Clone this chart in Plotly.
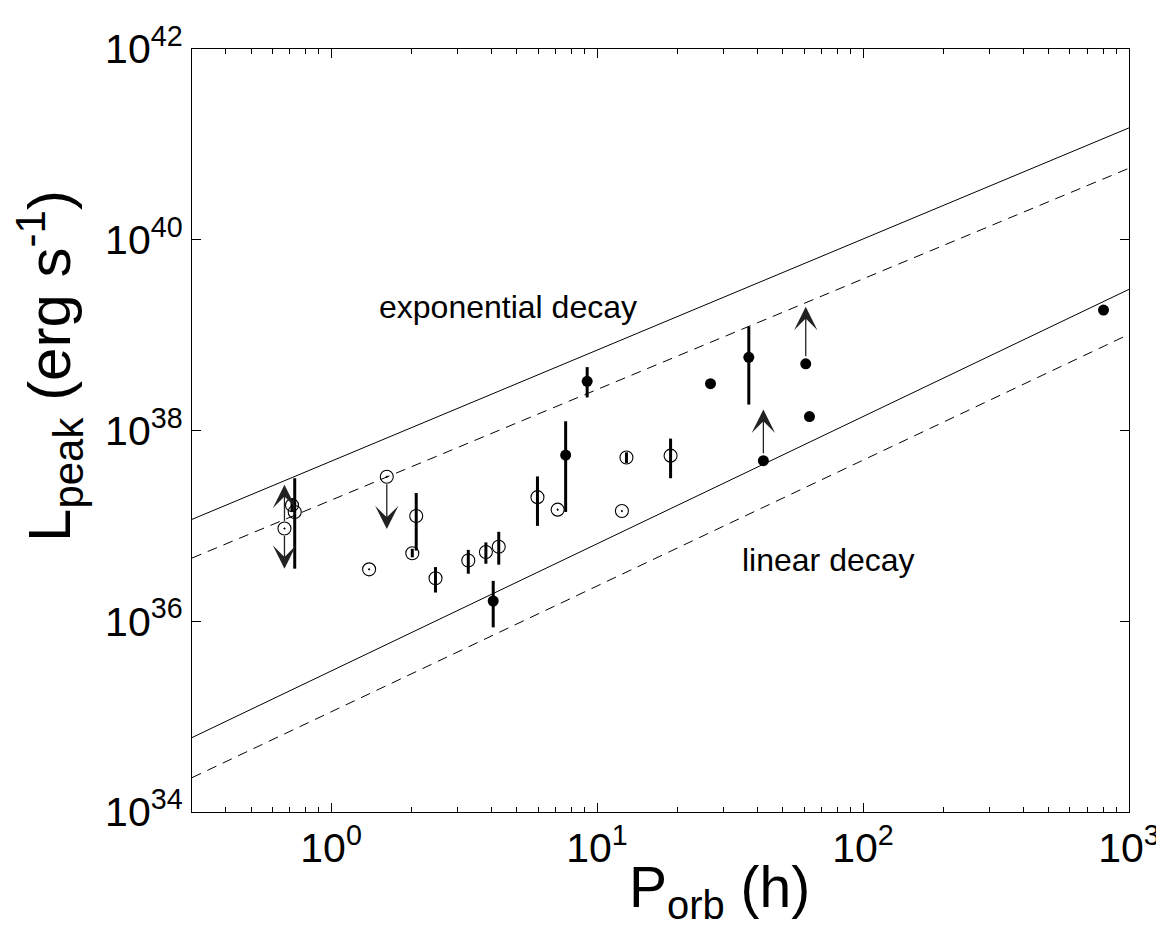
import numpy as np
import plotly.graph_objects as go

# ---------------- data ----------------
# open circles with (vertical) error bars
open_P = [0.713, 0.730, 2.09, 2.02, 2.47, 3.28, 3.82, 4.27, 5.97, 12.9, 18.9]
open_L = [1.65e37, 1.40e37, 1.27e37, 5.16e36, 2.82e36, 4.34e36, 5.33e36, 6.05e36, 2.00e37, 5.22e37, 5.45e37]
open_hi = [1.92e37, 3.16e37, 2.21e37, 5.75e36, 3.70e36, 5.60e36, 6.71e36, 8.67e36, 3.30e37, 5.90e37, 8.22e37]
open_lo = [1.43e37, 3.56e36, 5.51e36, 4.68e36, 2.00e36, 3.15e36, 4.01e36, 3.92e36, 1.00e37, 4.57e37, 3.16e37]

# open circles with central dot (no error bars)
dot_P = [0.668, 1.39, 1.62, 7.11, 12.4]
dot_L = [9.38e36, 3.50e36, 3.27e37, 1.48e37, 1.43e37]

# filled circles
fill_P = [4.07, 7.62, 9.18, 26.7, 37.2, 42.2, 60.9, 62.9, 802.0]
fill_L = [1.63e36, 5.53e37, 3.28e38, 3.10e38, 5.85e38, 4.83e37, 5.00e38, 1.40e38, 1.83e39]
fill_hi = [2.65e36, 1.25e38, 4.62e38, 3.10e38, 1.23e39, 4.83e37, 5.00e38, 1.40e38, 1.83e39]
fill_lo = [8.63e35, 1.40e37, 2.22e38, 3.10e38, 1.87e38, 4.83e37, 5.00e38, 1.40e38, 1.83e39]

# limit arrows: period, start luminosity, arrow tip luminosity
arrow_P = [0.668, 0.668, 1.62, 42.2, 60.9]
arrow_from = [9.38e36, 9.38e36, 3.27e37, 4.83e37, 5.00e38]
arrow_to = [2.70e37, 3.56e36, 9.25e36, 1.66e38, 1.98e39]

# model lines (values at the two ends of the period range)
line_P = [0.3, 1000.0]
exp_solid = [1.17e37, 1.49e41]
exp_dashed = [4.60e36, 5.62e40]
lin_solid = [6.03e34, 3.02e39]
lin_dashed = [2.29e34, 1.02e39]

x_tickvals = [1, 10, 100, 1000]
x_ticktext = ["10<sup>0</sup>", "10<sup>1</sup>", "10<sup>2</sup>", "10<sup>3</sup>"]
y_tickvals = [1e34, 1e36, 1e38, 1e40, 1e42]
y_ticktext = ["10<sup>34</sup>", "10<sup>36</sup>", "10<sup>38</sup>", "10<sup>40</sup>", "10<sup>42</sup>"]

FONT = "Arial, Liberation Sans, Helvetica, sans-serif"

fig = go.Figure()

for yy, dash in [(exp_solid, "solid"), (exp_dashed, "10px,7px"),
                 (lin_solid, "solid"), (lin_dashed, "10px,7px")]:
    fig.add_trace(go.Scatter(x=line_P, y=yy, mode="lines",
                             line=dict(color="black", width=1, dash=dash),
                             showlegend=False, hoverinfo="skip"))

oL = np.array(open_L); fL = np.array(fill_L)
fig.add_trace(go.Scatter(
    x=open_P, y=open_L, mode="markers",
    marker=dict(symbol="circle-open", size=13, color="black", line=dict(width=1.1)),
    error_y=dict(type="data", symmetric=False,
                 array=list(np.array(open_hi) - oL), arrayminus=list(oL - np.array(open_lo)),
                 color="black", thickness=3, width=0),
    showlegend=False))

fig.add_trace(go.Scatter(
    x=dot_P, y=dot_L, mode="markers",
    marker=dict(symbol="circle-open-dot", size=13, color="black", line=dict(width=1.1)),
    showlegend=False))

fig.add_trace(go.Scatter(
    x=fill_P, y=fill_L, mode="markers",
    marker=dict(symbol="circle", size=11, color="black"),
    error_y=dict(type="data", symmetric=False,
                 array=list(np.array(fill_hi) - fL), arrayminus=list(fL - np.array(fill_lo)),
                 color="black", thickness=3, width=0),
    showlegend=False))

for p, a, b in zip(arrow_P, arrow_from, arrow_to):
    fig.add_annotation(x=np.log10(p), y=np.log10(b), ax=np.log10(p), ay=np.log10(a),
                       xref="x", yref="y", axref="x", ayref="y", text="",
                       showarrow=True, arrowhead=3, arrowsize=3.0, arrowwidth=1.3,
                       arrowcolor="#222222", startstandoff=6)

fig.add_annotation(x=np.log10(4.64), y=39.30, xref="x", yref="y", text="exponential decay",
                   showarrow=False, font=dict(family=FONT, size=32, color="black"))
fig.add_annotation(x=np.log10(74.3), y=36.64, xref="x", yref="y", text="linear decay",
                   showarrow=False, font=dict(family=FONT, size=32, color="black"))

# axis titles
fig.add_annotation(x=0.563, y=-0.153, xref="paper", yref="paper", xanchor="center", yanchor="bottom",
                   text="P<sub>orb</sub> (h)", showarrow=False,
                   font=dict(family=FONT, size=57, color="black"))
fig.add_annotation(x=-0.152, y=0.584, xref="paper", yref="paper", xanchor="center", yanchor="middle",
                   text="L<sub>peak</sub> (erg s<sup>-1</sup>)", textangle=-90, showarrow=False,
                   font=dict(family=FONT, size=60, color="black"))

axis_common = dict(showline=True, linecolor="black", linewidth=1.3, mirror="ticks",
                   ticks="inside", ticklen=9, tickwidth=1.2, tickcolor="black",
                   showgrid=False, zeroline=False,
                   tickfont=dict(family=FONT, size=41, color="black"))

minor_vals = [v * m for v in [0.1, 1, 10, 100] for m in range(2, 10) if 0.3 <= v * m < 1000]

fig.update_xaxes(type="log", range=[np.log10(0.3), 3], tickvals=x_tickvals, ticktext=x_ticktext,
                 minor=dict(ticks="inside", ticklen=5, tickwidth=1, tickcolor="black", tickvals=minor_vals),
                 **axis_common)
fig.update_yaxes(type="log", range=[34, 42], tickvals=y_tickvals, ticktext=y_ticktext,
                 **axis_common)

fig.update_layout(width=1164, height=933, autosize=False,
                  margin=dict(l=184, r=36, t=32, b=129),
                  plot_bgcolor="white", paper_bgcolor="white", showlegend=False)

fig.write_html("out.html")
